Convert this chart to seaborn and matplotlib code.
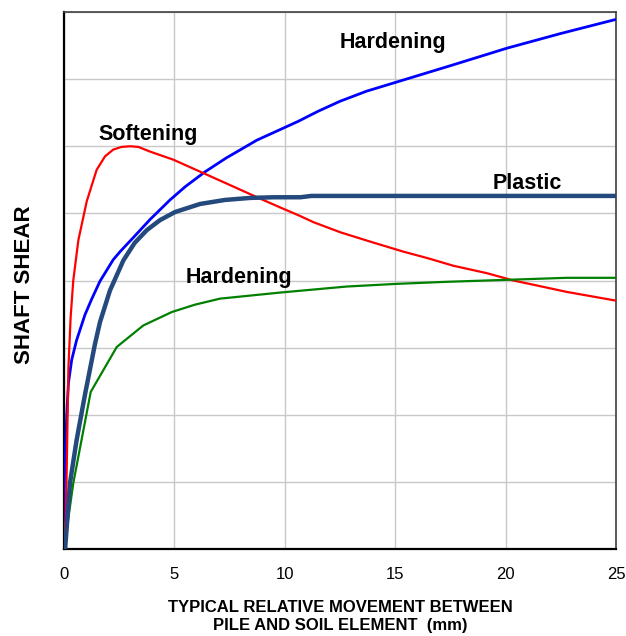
import matplotlib
matplotlib.use("Agg")
import matplotlib.pyplot as plt
import seaborn as sns
import pandas as pd
from matplotlib.ticker import MultipleLocator, NullFormatter

# ---- data ----
soft_x = [0, 0.08, 0.12, 0.2, 0.3, 0.42, 0.65, 1.03, 1.48, 1.86, 2.23, 2.6, 3.0, 3.37, 3.9, 4.95,
          6.31, 7.8, 8.88, 9.78, 10.7, 11.29, 12.5, 13.86, 15.37, 16.5, 17.63, 19.14, 20.35, 21.5, 22.77, 25]
soft_y = [0, 0.5, 1.13, 2.7, 3.45, 4.0, 4.6, 5.18, 5.65, 5.85, 5.95, 5.99, 6.0, 5.99, 5.92, 5.8,
          5.6, 5.38, 5.22, 5.09, 4.96, 4.87, 4.72, 4.58, 4.43, 4.33, 4.22, 4.11, 4.0, 3.92, 3.83, 3.70]

hard1_x = [0, 0.02, 0.12, 0.2, 0.35, 0.57, 0.95, 1.25, 1.63, 2.23, 2.54, 3.14, 3.9, 4.8, 5.5, 6.39,
           7.37, 8.0, 8.73, 10.0, 10.6, 11.5, 12.5, 13.7, 15.0, 16.6, 17.5, 20.05, 22.5, 25]
hard1_y = [0, 1.0, 1.97, 2.47, 2.82, 3.11, 3.49, 3.72, 3.99, 4.31, 4.43, 4.64, 4.91, 5.2, 5.4, 5.62,
           5.83, 5.95, 6.09, 6.28, 6.37, 6.52, 6.67, 6.82, 6.95, 7.11, 7.2, 7.46, 7.68, 7.89]

plas_x = [0, 0.05, 0.27, 0.57, 0.95, 1.25, 1.4, 1.63, 2.08, 2.69, 3.2, 3.75, 4.35, 5.03, 6.16, 7.29,
          8.42, 9.5, 10.7, 11.2, 25]
plas_y = [0, 0, 0.98, 1.62, 2.3, 2.8, 3.05, 3.38, 3.85, 4.3, 4.56, 4.75, 4.9, 5.02, 5.14, 5.2,
          5.23, 5.24, 5.24, 5.26, 5.26]

hard2_x = [0, 0.42, 1.21, 2.39, 3.59, 4.88, 5.93, 7.07, 9.78, 12.8, 15.07, 17.3, 20.05, 22.77, 25]
hard2_y = [0, 0.98, 2.34, 3.01, 3.33, 3.53, 3.64, 3.73, 3.82, 3.91, 3.95, 3.98, 4.01, 4.04, 4.04]

x_ticks = [0, 5, 10, 15, 20, 25]
curve_labels = ["Hardening", "Softening", "Plastic", "Hardening"]
x_label = "TYPICAL RELATIVE MOVEMENT BETWEEN\nPILE AND SOIL ELEMENT  (mm)"
y_label = "SHAFT SHEAR"

# ---- style ----
sns.set_style("white")
plt.rcParams['font.family'] = ['Liberation Sans', 'DejaVu Sans']
plt.rcParams['text.color'] = 'black'
plt.rcParams['axes.labelcolor'] = 'black'
plt.rcParams['xtick.color'] = 'black'
plt.rcParams['ytick.color'] = 'black'

fig = plt.figure(figsize=(6.26, 6.36), dpi=100)
ax = fig.add_axes([64/626, 1-549/636, (616-64)/626, (549-12)/636])

series = [
    (hard1_x, hard1_y, "#0000FF", 2.0),
    (soft_x, soft_y, "#FF0000", 1.6),
    (hard2_x, hard2_y, "#008000", 1.6),
    (plas_x, plas_y, "#24497D", 3.2),
]
for xs, ys, col, lw in series:
    df = pd.DataFrame({"x": xs, "y": ys})
    sns.lineplot(data=df, x="x", y="y", ax=ax, color=col, linewidth=lw,
                 sort=False, estimator=None, zorder=3)

ax.set_xlim(0, 25)
ax.set_ylim(0, 8)
ax.set_xticks(x_ticks)
ax.set_xticklabels([str(t) for t in x_ticks])
ax.xaxis.set_minor_locator(MultipleLocator(2.5))
ax.yaxis.set_major_locator(MultipleLocator(1))
ax.yaxis.set_minor_locator(MultipleLocator(0.5))
ax.yaxis.set_major_formatter(NullFormatter())
ax.tick_params(axis='both', which='both', direction='out', length=5, width=1.2, color='#202020')
ax.tick_params(axis='x', which='major', labelsize=12, pad=8, labelcolor='black')

ax.grid(True, which='major', color='#C8C8C8', linewidth=1.0, zorder=0)
ax.set_axisbelow(True)
for side in ['left', 'bottom']:
    ax.spines[side].set_color('#000000')
    ax.spines[side].set_linewidth(1.6)
for side in ['top', 'right']:
    ax.spines[side].set_color('#404040')
    ax.spines[side].set_linewidth(1.2)

ax.set_xlabel(x_label, fontsize=12, fontweight='bold', labelpad=13, linespacing=1.2, color='black')
ax.set_ylabel(y_label, fontsize=16, fontweight='bold', color='black')
ax.yaxis.set_label_coords(-0.052, 0.492)

label_pos = [(14.9, 7.55), (3.8, 6.18), (20.97, 5.45), (7.93, 4.04)]
for txt, (lx, ly) in zip(curve_labels, label_pos):
    ax.text(lx, ly, txt, ha='center', va='center', fontsize=15.5, fontweight='bold',
            color='black', zorder=4)

fig.savefig("out.png", dpi=100)
